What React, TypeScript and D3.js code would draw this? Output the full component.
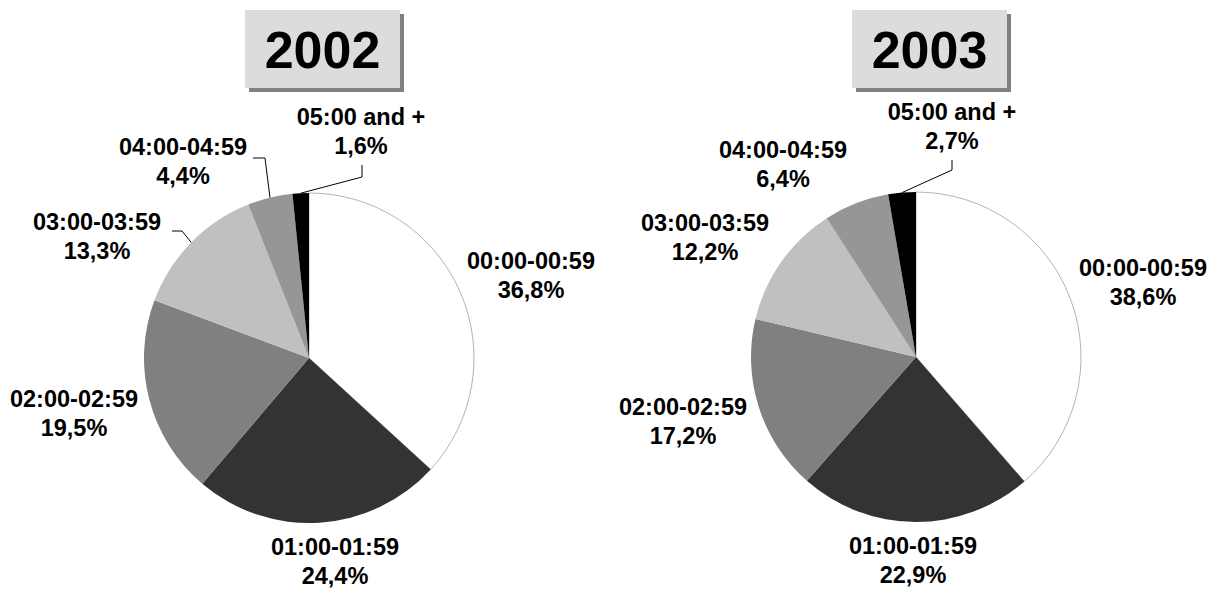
import React from "react";
import * as d3 from "d3";

const categories = ["00:00-00:59", "01:00-01:59", "02:00-02:59", "03:00-03:59", "04:00-04:59", "05:00 and +"];
const values2002 = [36.8, 24.4, 19.5, 13.3, 4.4, 1.6];
const values2003 = [38.6, 22.9, 17.2, 12.2, 6.4, 2.7];
const years = ["2002", "2003"];
const sliceColors = ["#ffffff", "#333333", "#808080", "#c0c0c0", "#969696", "#000000"];

const W = 1210;
const H = 589;
const R = 165;
const FONT = "'Liberation Sans', Arial, Helvetica, sans-serif";

// layout (positions relative to each pie centre)
const pies = [
  {
    cx: 309, cy: 358,
    box: { x: 245, y: 10, w: 155, h: 78 },
    labels: [[222, -82], [26, 204], [-235, 56], [-212, -121], [-126, -196], [52, -226]],
    leaders: { 3: [[85, -6], [75, -6]], 4: [[82, -4], [70, -4]], 5: [[1, 45], [1, 33]] } as Record<number, number[][]>,
  },
  {
    cx: 916, cy: 357,
    box: { x: 852, y: 10, w: 155, h: 78 },
    labels: [[227, -74], [-3, 204], [-233, 65], [-211, -119], [-133, -192], [36, -230]],
    leaders: { 5: [[0, 43], [0, 33]] } as Record<number, number[][]>,
  },
];

const fmt = (v: number) => v.toFixed(1).replace(".", ",") + "%";

function Pie({ values, year, layout }: { values: number[]; year: string; layout: typeof pies[0] }) {
  const pie = d3.pie<number>().sort(null).value((d) => d)(values);
  const arc = d3.arc<d3.PieArcDatum<number>>().innerRadius(0).outerRadius(R);
  const lineGen = d3.line();
  const { cx, cy, box } = layout;
  return (
    <g>
      <rect x={box.x + 4} y={box.y + 4} width={box.w} height={box.h} fill="#808080" />
      <rect x={box.x} y={box.y} width={box.w} height={box.h} fill="#dcdcdc" />
      <text x={box.x + box.w / 2} y={box.y + box.h / 2 + 19} textAnchor="middle" fontFamily={FONT} fontWeight="bold" fontSize={52} fill="#000">
        {year}
      </text>
      <g transform={`translate(${cx},${cy})`}>
        {pie.map((p, i) => (
          <path key={i} d={arc(p) || ""} fill={sliceColors[i]} stroke={i === 0 ? "#b4b4b4" : "none"} strokeWidth={1} />
        ))}
        {pie.map((p, i) => {
          const lead = layout.leaders[i];
          if (!lead) return null;
          const mid = (p.startAngle + p.endAngle) / 2;
          const start: [number, number] = [Math.sin(mid) * R, -Math.cos(mid) * R];
          const [lx, ly] = layout.labels[i];
          const pts: [number, number][] = [start, ...lead.map((q) => [lx + q[0], ly + q[1]] as [number, number])];
          return <path key={"l" + i} d={lineGen(pts) || ""} fill="none" stroke="#000" strokeWidth={1} />;
        })}
        {pie.map((p, i) => {
          const [lx, ly] = layout.labels[i];
          return (
            <text key={"t" + i} x={lx} textAnchor="middle" fontFamily={FONT} fontWeight="bold" fontSize={23.5} fill="#000">
              <tspan x={lx} y={ly - 7}>{categories[i]}</tspan>
              <tspan x={lx} y={ly + 22}>{fmt(values[i])}</tspan>
            </text>
          );
        })}
      </g>
    </g>
  );
}

export default function App() {
  return (
    <svg width={W} height={H} style={{ position: "absolute", left: 0, top: 0, background: "#fff" }}>
      <rect width={W} height={H} fill="#fff" />
      <Pie values={values2002} year={years[0]} layout={pies[0]} />
      <Pie values={values2003} year={years[1]} layout={pies[1]} />
    </svg>
  );
}
